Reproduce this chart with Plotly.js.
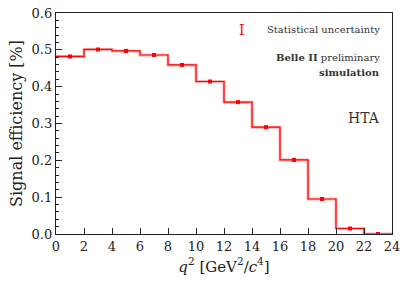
<!DOCTYPE html>
<html><head><meta charset="utf-8">
<script src="https://cdn.plot.ly/plotly-3.0.1.min.js"></script>
<style>body{margin:0;background:#fff}#c{width:407px;height:290px}</style>
</head><body><div id="c"></div>
<script>
const binEdges = [0,2,4,6,8,10,12,14,16,18,20,22,24];
const binCenters = [1,3,5,7,9,11,13,15,17,19,21,23];
const efficiency = [0.482,0.501,0.497,0.486,0.459,0.414,0.358,0.290,0.201,0.095,0.015,0.0];
const statErr = [0.002,0.002,0.002,0.002,0.002,0.002,0.002,0.002,0.002,0.002,0.001,0.0005];
const yTicks = [0.0,0.1,0.2,0.3,0.4,0.5,0.6];
const xTicks = [0,2,4,6,8,10,12,14,16,18,20,22,24];

const stepY = efficiency.concat([efficiency[efficiency.length-1]]);
const font = 'DejaVu Serif';

const traces = [
  {x: binEdges, y: stepY, mode:'lines', line:{shape:'hv', color:'rgba(255,0,0,0.3)', width:3}, hoverinfo:'skip', showlegend:false},
  {x: binEdges, y: stepY, mode:'lines', line:{shape:'hv', color:'#ff0000', width:1.2}, showlegend:false},
  {x: binCenters, y: efficiency, mode:'markers', marker:{symbol:'square', size:4, color:'#ff0000'},
   error_y:{type:'data', array:statErr, color:'#ff0000', width:0, thickness:1}, showlegend:false}
];

const layout = {
  width:407, height:290,
  margin:{l:56, r:15, t:13, b:56},
  paper_bgcolor:'#fff', plot_bgcolor:'#fff',
  font:{family:font, color:'#222', size:14},
  showlegend:false,
  xaxis:{range:[0,24], tickvals:xTicks, ticktext:xTicks.map(String), ticks:'inside', ticklen:6, tickcolor:'#222',
    showline:true, mirror:true, linecolor:'#222', linewidth:1.2, showgrid:false, zeroline:false, layer:'above traces',
    tickfont:{family:font, size:13},
    title:{text:'<i>q</i><sup>2</sup> [GeV<sup>2</sup>/<i>c</i><sup>4</sup>]', font:{family:font, size:15}, standoff:8}},
  yaxis:{range:[0,0.6], tickvals:yTicks, ticktext:yTicks.map(v=>v.toFixed(1)), ticks:'inside', ticklen:6, tickcolor:'#222',
    minor:{dtick:0.02, ticks:'inside', ticklen:3, tickcolor:'#222', showgrid:false},
    showline:true, mirror:true, linecolor:'#222', linewidth:1.2, showgrid:false, zeroline:false, layer:'above traces',
    tickfont:{family:font, size:13},
    title:{text:'Signal efficiency [%]', font:{family:font, size:16}, standoff:5}},
  annotations:[
    {xref:'paper', yref:'paper', x:0.555, y:0.925, text:'I', showarrow:false, font:{family:font, size:14, color:'#ff0000'}, xanchor:'center', yanchor:'middle'},
    {xref:'paper', yref:'paper', x:0.97, y:0.925, text:'Statistical uncertainty', showarrow:false, font:{family:font, size:10, color:'#333'}, xanchor:'right', yanchor:'middle'},
    {xref:'paper', yref:'paper', x:0.97, y:0.8, text:'<b>Belle II</b> preliminary', showarrow:false, font:{family:font, size:10, color:'#333'}, xanchor:'right', yanchor:'middle'},
    {xref:'paper', yref:'paper', x:0.97, y:0.732, text:'<b>simulation</b>', showarrow:false, font:{family:font, size:10, color:'#333'}, xanchor:'right', yanchor:'middle'},
    {xref:'paper', yref:'paper', x:0.97, y:0.526, text:'HTA', showarrow:false, font:{family:font, size:14, color:'#333'}, xanchor:'right', yanchor:'middle'}
  ]
};
Plotly.newPlot('c', traces, layout, {staticPlot:true, displayModeBar:false});
</script></body></html>
